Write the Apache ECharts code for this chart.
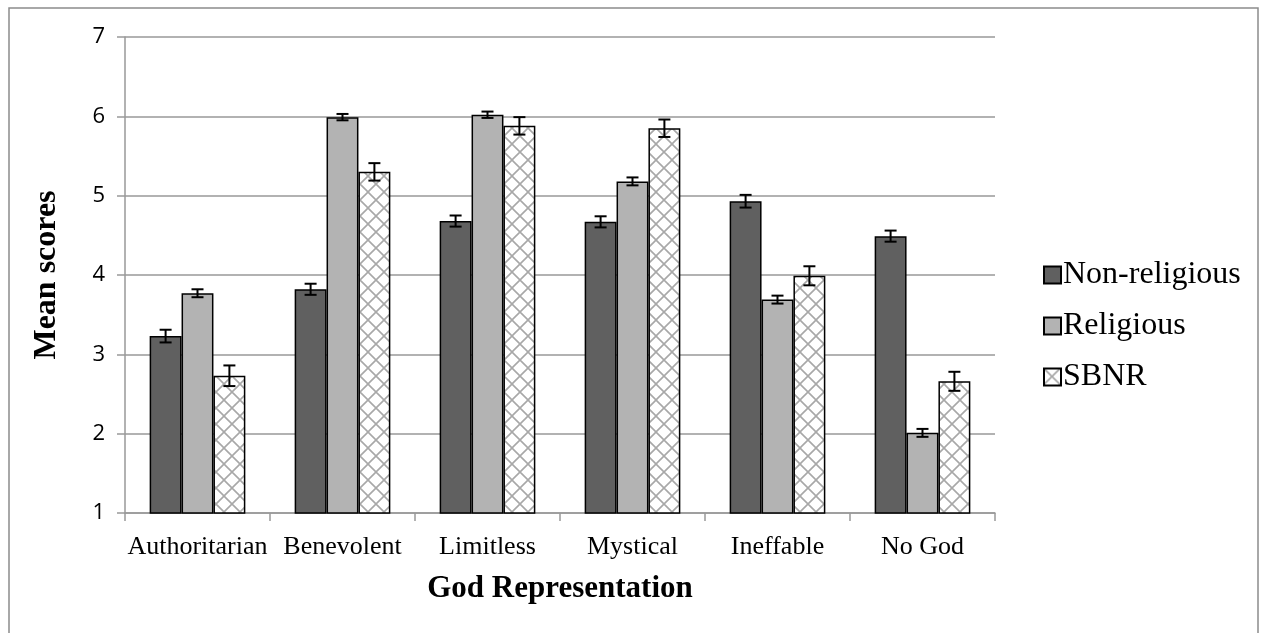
<!DOCTYPE html>
<html>
<head>
<meta charset="utf-8">
<script src="https://cdn.jsdelivr.net/npm/echarts@6/dist/echarts.min.js"></script>
<style>html,body{margin:0;padding:0;background:#fff;}#c{width:1267px;height:633px;}</style>
</head>
<body>
<div id="c"></div>
<script>
const categories = ['Authoritarian', 'Benevolent', 'Limitless', 'Mystical', 'Ineffable', 'No God'];
const seriesNames = ['Non-religious', 'Religious', 'SBNR'];
const nonReligious = [3.23, 3.82, 4.68, 4.67, 4.93, 4.49];
const religious = [3.77, 5.99, 6.02, 5.18, 3.69, 2.01];
const sbnr = [2.73, 5.30, 5.88, 5.85, 3.99, 2.66];
const errNonReligious = [0.08, 0.07, 0.07, 0.07, 0.08, 0.07];
const errReligious = [0.05, 0.04, 0.04, 0.05, 0.05, 0.05];
const errSbnr = [0.13, 0.11, 0.11, 0.11, 0.12, 0.12];
const yTicks = [1, 2, 3, 4, 5, 6, 7];

const values = [nonReligious, religious, sbnr];
const errs = [errNonReligious, errReligious, errSbnr];

function makePattern() {
  const c = document.createElement('canvas');
  c.width = 16; c.height = 16;
  const ctx = c.getContext('2d');
  ctx.fillStyle = '#ffffff';
  ctx.fillRect(0, 0, 16, 16);
  ctx.strokeStyle = '#a8a8a8';
  ctx.lineWidth = 1.6;
  ctx.beginPath();
  ctx.moveTo(-2, -2); ctx.lineTo(18, 18);
  ctx.moveTo(18, -2); ctx.lineTo(-2, 18);
  ctx.stroke();
  return c;
}
const fills = ['#606060', '#b3b3b3', { image: makePattern(), repeat: 'repeat' }];
const GAP = 0.34;

const errData = [];
for (let s = 0; s < 3; s++) {
  for (let i = 0; i < categories.length; i++) {
    errData.push([i, s, values[s][i], errs[s][i]]);
  }
}

const chart = echarts.init(document.getElementById('c'));
const series = seriesNames.map((n, s) => ({
  name: n,
  type: 'bar',
  data: values[s],
  barGap: '0%',
  barCategoryGap: (GAP * 100) + '%',
  itemStyle: { color: fills[s], borderColor: '#000', borderWidth: 1.5 },
  emphasis: { disabled: true },
  z: 2
}));
series.push({
  type: 'custom',
  name: 'err',
  data: errData,
  z: 5,
  encode: { x: 0, y: 2 },
  renderItem: function (params, api) {
    const ci = api.value(0), s = api.value(1), v = api.value(2), e = api.value(3);
    const catW = api.size([1, 0])[0];
    const bw = catW * (1 - GAP) / 3;
    const c = api.coord([ci, v]);
    const x = c[0] + (s - 1) * bw;
    const yt = api.coord([ci, v + e])[1];
    const yb = api.coord([ci, v - e])[1];
    const cap = 6;
    const st = { stroke: '#000', lineWidth: 2 };
    return {
      type: 'group',
      children: [
        { type: 'line', shape: { x1: x, y1: yt, x2: x, y2: yb }, style: st },
        { type: 'line', shape: { x1: x - cap, y1: yt, x2: x + cap, y2: yt }, style: st },
        { type: 'line', shape: { x1: x - cap, y1: yb, x2: x + cap, y2: yb }, style: st }
      ]
    };
  }
});

chart.setOption({
  animation: false,
  backgroundColor: '#fff',
  graphic: [{
    type: 'rect', shape: { x: 9, y: 8, width: 1249, height: 640 },
    style: { fill: 'none', stroke: '#8c8c8c', lineWidth: 1.5 }, z: -1
  }],
  grid: { left: 125, right: 272, top: 37, bottom: 120, containLabel: false },
  legend: {
    data: seriesNames,
    orient: 'vertical',
    left: 1038,
    top: 252,
    icon: 'rect',
    itemWidth: 17,
    itemHeight: 17,
    itemGap: 15,
    selectedMode: false,
    textStyle: { fontFamily: 'Liberation Serif', fontSize: 32, lineHeight: 36, color: '#000', padding: [0, 0, 0, -3] }
  },
  xAxis: {
    type: 'category',
    data: categories,
    name: 'God Representation',
    nameLocation: 'middle',
    nameGap: 60,
    nameTextStyle: { fontFamily: 'Liberation Serif', fontWeight: 'bold', fontSize: 31, color: '#000' },
    axisLine: { lineStyle: { color: '#999', width: 1.5 } },
    axisTick: { show: true, length: 8, lineStyle: { color: '#999', width: 1.5 } },
    axisLabel: { fontFamily: 'Liberation Serif', fontSize: 26, color: '#000', margin: 21, interval: 0 }
  },
  yAxis: {
    type: 'value',
    min: yTicks[0],
    max: yTicks[yTicks.length - 1],
    interval: 1,
    name: 'Mean scores',
    nameLocation: 'middle',
    nameGap: 62,
    nameRotate: 90,
    nameTextStyle: { fontFamily: 'Liberation Serif', fontWeight: 'bold', fontSize: 32, color: '#000' },
    axisLine: { show: true, lineStyle: { color: '#999', width: 1.5 } },
    axisTick: { show: true, length: 8, lineStyle: { color: '#999', width: 1.5 } },
    axisLabel: { fontFamily: 'Open Sans', fontSize: 22, color: '#000', margin: 20 },
    splitLine: { lineStyle: { color: '#999', width: 1.5 } }
  },
  series: series
});
</script>
</body>
</html>
